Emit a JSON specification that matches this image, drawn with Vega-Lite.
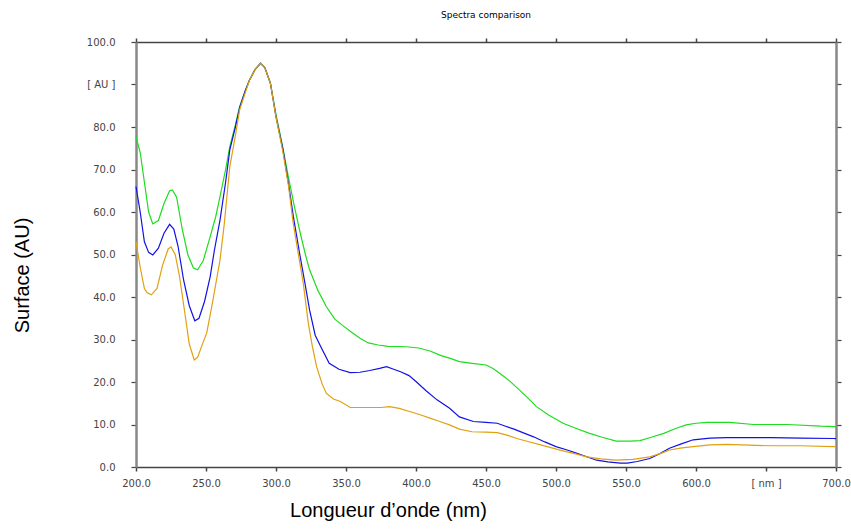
{
  "$schema": "https://vega.github.io/schema/vega-lite/v6.json",
  "autosize": {"type": "none"},
  "padding": {"left": 136, "top": 42, "right": 15, "bottom": 62},
  "width": 700,
  "height": 425,
  "background": "white",
  "config": {"view": {"stroke": null}, "font": "Liberation Sans"},
  "title": {"text": "Spectra comparison", "fontSize": 9, "fontWeight": "normal", "font": "DejaVu Sans", "color": "#000", "offset": 17, "anchor": "middle"},
  "datasets": {
    "spectra": [
      {"nm": 200, "v": 77.7, "s": "green"}, {"nm": 203, "v": 74, "s": "green"}, {"nm": 206, "v": 67, "s": "green"}, {"nm": 209, "v": 60, "s": "green"}, {"nm": 212, "v": 57.2, "s": "green"}, {"nm": 216, "v": 58, "s": "green"}, {"nm": 220, "v": 62, "s": "green"}, {"nm": 224, "v": 65, "s": "green"}, {"nm": 226, "v": 65.2, "s": "green"}, {"nm": 229, "v": 63.5, "s": "green"}, {"nm": 233, "v": 56, "s": "green"}, {"nm": 237, "v": 50, "s": "green"}, {"nm": 241, "v": 46.8, "s": "green"}, {"nm": 244, "v": 46.4, "s": "green"}, {"nm": 248, "v": 48.5, "s": "green"}, {"nm": 253, "v": 54.2, "s": "green"}, {"nm": 257, "v": 59, "s": "green"}, {"nm": 260, "v": 63.6, "s": "green"}, {"nm": 264, "v": 70, "s": "green"}, {"nm": 267, "v": 75.4, "s": "green"}, {"nm": 271, "v": 80.5, "s": "green"}, {"nm": 274, "v": 84.8, "s": "green"}, {"nm": 278, "v": 88.5, "s": "green"}, {"nm": 281, "v": 91, "s": "green"}, {"nm": 285, "v": 93.5, "s": "green"}, {"nm": 289, "v": 95, "s": "green"}, {"nm": 292, "v": 94, "s": "green"}, {"nm": 296, "v": 90.3, "s": "green"}, {"nm": 300, "v": 83, "s": "green"}, {"nm": 305, "v": 75, "s": "green"}, {"nm": 309, "v": 68, "s": "green"}, {"nm": 313, "v": 61.5, "s": "green"}, {"nm": 317, "v": 55.5, "s": "green"}, {"nm": 321, "v": 50, "s": "green"}, {"nm": 324, "v": 46.4, "s": "green"}, {"nm": 330, "v": 41.5, "s": "green"}, {"nm": 336, "v": 37.7, "s": "green"}, {"nm": 342, "v": 34.8, "s": "green"}, {"nm": 348, "v": 33.2, "s": "green"}, {"nm": 354, "v": 31.7, "s": "green"}, {"nm": 360, "v": 30.3, "s": "green"}, {"nm": 366, "v": 29.2, "s": "green"}, {"nm": 373, "v": 28.7, "s": "green"}, {"nm": 380, "v": 28.4, "s": "green"}, {"nm": 393, "v": 28.3, "s": "green"}, {"nm": 402, "v": 28, "s": "green"}, {"nm": 410, "v": 27.3, "s": "green"}, {"nm": 418, "v": 26.2, "s": "green"}, {"nm": 425, "v": 25.5, "s": "green"}, {"nm": 431, "v": 24.8, "s": "green"}, {"nm": 440, "v": 24.4, "s": "green"}, {"nm": 450, "v": 24, "s": "green"}, {"nm": 455, "v": 23.2, "s": "green"}, {"nm": 460, "v": 22, "s": "green"}, {"nm": 467, "v": 20.2, "s": "green"}, {"nm": 474, "v": 18.1, "s": "green"}, {"nm": 480, "v": 16.2, "s": "green"}, {"nm": 486, "v": 14.2, "s": "green"}, {"nm": 495, "v": 12.2, "s": "green"}, {"nm": 505, "v": 10.3, "s": "green"}, {"nm": 515, "v": 9, "s": "green"}, {"nm": 524, "v": 7.9, "s": "green"}, {"nm": 533, "v": 7, "s": "green"}, {"nm": 543, "v": 6.1, "s": "green"}, {"nm": 553, "v": 6.1, "s": "green"}, {"nm": 560, "v": 6.2, "s": "green"}, {"nm": 568, "v": 7, "s": "green"}, {"nm": 577, "v": 7.9, "s": "green"}, {"nm": 585, "v": 9, "s": "green"}, {"nm": 593, "v": 9.9, "s": "green"}, {"nm": 600, "v": 10.3, "s": "green"}, {"nm": 608, "v": 10.5, "s": "green"}, {"nm": 624, "v": 10.5, "s": "green"}, {"nm": 641, "v": 10, "s": "green"}, {"nm": 665, "v": 10, "s": "green"}, {"nm": 689, "v": 9.6, "s": "green"}, {"nm": 700, "v": 9.5, "s": "green"},

      {"nm": 200, "v": 66, "s": "blue"}, {"nm": 203, "v": 60, "s": "blue"}, {"nm": 206, "v": 53, "s": "blue"}, {"nm": 209, "v": 50.5, "s": "blue"}, {"nm": 212, "v": 49.9, "s": "blue"}, {"nm": 216, "v": 51.5, "s": "blue"}, {"nm": 220, "v": 55, "s": "blue"}, {"nm": 224, "v": 57.1, "s": "blue"}, {"nm": 227, "v": 56, "s": "blue"}, {"nm": 230, "v": 52, "s": "blue"}, {"nm": 234, "v": 44, "s": "blue"}, {"nm": 238, "v": 38, "s": "blue"}, {"nm": 242, "v": 34.4, "s": "blue"}, {"nm": 245, "v": 35, "s": "blue"}, {"nm": 249, "v": 39, "s": "blue"}, {"nm": 253, "v": 44.8, "s": "blue"}, {"nm": 256, "v": 51, "s": "blue"}, {"nm": 260, "v": 58.1, "s": "blue"}, {"nm": 264, "v": 67, "s": "blue"}, {"nm": 267, "v": 74.6, "s": "blue"}, {"nm": 271, "v": 80, "s": "blue"}, {"nm": 274, "v": 84.5, "s": "blue"}, {"nm": 278, "v": 88.5, "s": "blue"}, {"nm": 281, "v": 91, "s": "blue"}, {"nm": 285, "v": 93.5, "s": "blue"}, {"nm": 289, "v": 95, "s": "blue"}, {"nm": 292, "v": 94, "s": "blue"}, {"nm": 296, "v": 90.3, "s": "blue"}, {"nm": 300, "v": 82.4, "s": "blue"}, {"nm": 305, "v": 74.6, "s": "blue"}, {"nm": 309, "v": 66.5, "s": "blue"}, {"nm": 312.4, "v": 58.9, "s": "blue"}, {"nm": 317, "v": 50, "s": "blue"}, {"nm": 320.7, "v": 43.2, "s": "blue"}, {"nm": 324, "v": 36.9, "s": "blue"}, {"nm": 328, "v": 31, "s": "blue"}, {"nm": 332, "v": 28.3, "s": "blue"}, {"nm": 338, "v": 24.4, "s": "blue"}, {"nm": 345, "v": 23, "s": "blue"}, {"nm": 353, "v": 22.2, "s": "blue"}, {"nm": 360, "v": 22.3, "s": "blue"}, {"nm": 367, "v": 22.7, "s": "blue"}, {"nm": 374, "v": 23.2, "s": "blue"}, {"nm": 379, "v": 23.6, "s": "blue"}, {"nm": 384, "v": 23, "s": "blue"}, {"nm": 389, "v": 22.4, "s": "blue"}, {"nm": 395, "v": 21.5, "s": "blue"}, {"nm": 400, "v": 20.1, "s": "blue"}, {"nm": 407, "v": 18, "s": "blue"}, {"nm": 415, "v": 15.8, "s": "blue"}, {"nm": 424, "v": 13.8, "s": "blue"}, {"nm": 431, "v": 11.8, "s": "blue"}, {"nm": 441, "v": 10.7, "s": "blue"}, {"nm": 450, "v": 10.5, "s": "blue"}, {"nm": 458, "v": 10.3, "s": "blue"}, {"nm": 464, "v": 9.6, "s": "blue"}, {"nm": 470, "v": 8.9, "s": "blue"}, {"nm": 484, "v": 7.1, "s": "blue"}, {"nm": 492, "v": 5.9, "s": "blue"}, {"nm": 500, "v": 4.8, "s": "blue"}, {"nm": 508, "v": 4, "s": "blue"}, {"nm": 515, "v": 3.2, "s": "blue"}, {"nm": 522, "v": 2.4, "s": "blue"}, {"nm": 529, "v": 1.6, "s": "blue"}, {"nm": 537, "v": 1.2, "s": "blue"}, {"nm": 546, "v": 0.9, "s": "blue"}, {"nm": 551, "v": 0.9, "s": "blue"}, {"nm": 558, "v": 1.3, "s": "blue"}, {"nm": 567, "v": 2, "s": "blue"}, {"nm": 574, "v": 3.1, "s": "blue"}, {"nm": 581, "v": 4.4, "s": "blue"}, {"nm": 590, "v": 5.5, "s": "blue"}, {"nm": 598, "v": 6.4, "s": "blue"}, {"nm": 610, "v": 6.8, "s": "blue"}, {"nm": 622, "v": 6.9, "s": "blue"}, {"nm": 653, "v": 6.9, "s": "blue"}, {"nm": 675, "v": 6.8, "s": "blue"}, {"nm": 698, "v": 6.7, "s": "blue"}, {"nm": 700, "v": 6.7, "s": "blue"},

      {"nm": 200, "v": 53, "s": "orange"}, {"nm": 203, "v": 47, "s": "orange"}, {"nm": 206, "v": 42, "s": "orange"}, {"nm": 208, "v": 41, "s": "orange"}, {"nm": 211, "v": 40.5, "s": "orange"}, {"nm": 215, "v": 42, "s": "orange"}, {"nm": 219, "v": 47.5, "s": "orange"}, {"nm": 223, "v": 51.3, "s": "orange"}, {"nm": 225, "v": 51.8, "s": "orange"}, {"nm": 228, "v": 50, "s": "orange"}, {"nm": 231, "v": 45, "s": "orange"}, {"nm": 235, "v": 36, "s": "orange"}, {"nm": 238, "v": 29, "s": "orange"}, {"nm": 241.6, "v": 25.2, "s": "orange"}, {"nm": 244, "v": 25.8, "s": "orange"}, {"nm": 247, "v": 28.5, "s": "orange"}, {"nm": 250.5, "v": 31.5, "s": "orange"}, {"nm": 255, "v": 39.3, "s": "orange"}, {"nm": 260, "v": 48.7, "s": "orange"}, {"nm": 263, "v": 57, "s": "orange"}, {"nm": 267, "v": 70.7, "s": "orange"}, {"nm": 271, "v": 78, "s": "orange"}, {"nm": 274, "v": 84, "s": "orange"}, {"nm": 278, "v": 88, "s": "orange"}, {"nm": 281, "v": 91, "s": "orange"}, {"nm": 285, "v": 93.5, "s": "orange"}, {"nm": 289, "v": 95, "s": "orange"}, {"nm": 292, "v": 94, "s": "orange"}, {"nm": 296, "v": 90.3, "s": "orange"}, {"nm": 300, "v": 82.4, "s": "orange"}, {"nm": 305, "v": 74, "s": "orange"}, {"nm": 309, "v": 66, "s": "orange"}, {"nm": 312, "v": 58, "s": "orange"}, {"nm": 316, "v": 50, "s": "orange"}, {"nm": 319.5, "v": 43.2, "s": "orange"}, {"nm": 323, "v": 34, "s": "orange"}, {"nm": 326, "v": 28.3, "s": "orange"}, {"nm": 329, "v": 23.6, "s": "orange"}, {"nm": 333, "v": 19.5, "s": "orange"}, {"nm": 336, "v": 17.3, "s": "orange"}, {"nm": 341, "v": 16, "s": "orange"}, {"nm": 346, "v": 15.4, "s": "orange"}, {"nm": 353, "v": 14, "s": "orange"}, {"nm": 365, "v": 14, "s": "orange"}, {"nm": 375, "v": 14, "s": "orange"}, {"nm": 381, "v": 14.2, "s": "orange"}, {"nm": 388, "v": 13.8, "s": "orange"}, {"nm": 396, "v": 13, "s": "orange"}, {"nm": 403, "v": 12.3, "s": "orange"}, {"nm": 410, "v": 11.5, "s": "orange"}, {"nm": 417, "v": 10.7, "s": "orange"}, {"nm": 424, "v": 9.9, "s": "orange"}, {"nm": 431, "v": 8.9, "s": "orange"}, {"nm": 440, "v": 8.3, "s": "orange"}, {"nm": 450, "v": 8.2, "s": "orange"}, {"nm": 458, "v": 8.1, "s": "orange"}, {"nm": 465, "v": 7.5, "s": "orange"}, {"nm": 472, "v": 6.7, "s": "orange"}, {"nm": 480, "v": 6, "s": "orange"}, {"nm": 489, "v": 5.2, "s": "orange"}, {"nm": 497, "v": 4.5, "s": "orange"}, {"nm": 505, "v": 3.8, "s": "orange"}, {"nm": 514, "v": 3.1, "s": "orange"}, {"nm": 522, "v": 2.4, "s": "orange"}, {"nm": 532, "v": 1.9, "s": "orange"}, {"nm": 543, "v": 1.6, "s": "orange"}, {"nm": 555, "v": 1.8, "s": "orange"}, {"nm": 567, "v": 2.4, "s": "orange"}, {"nm": 575, "v": 3.2, "s": "orange"}, {"nm": 581, "v": 4, "s": "orange"}, {"nm": 590, "v": 4.5, "s": "orange"}, {"nm": 598, "v": 4.8, "s": "orange"}, {"nm": 610, "v": 5.2, "s": "orange"}, {"nm": 622, "v": 5.3, "s": "orange"}, {"nm": 653, "v": 5, "s": "orange"}, {"nm": 675, "v": 5, "s": "orange"}, {"nm": 698, "v": 4.8, "s": "orange"}, {"nm": 700, "v": 4.8, "s": "orange"}
    ]
  },
  "data": {"name": "spectra"},
  "layer": [
    {
      "mark": {"type": "line", "strokeWidth": 1.2, "interpolate": "linear"},
      "encoding": {
        "x": {"field": "nm", "type": "quantitative", "scale": {"domain": [200, 700], "nice": false, "zero": false},
          "axis": {"orient": "bottom", "values": [200, 250, 300, 350, 400, 450, 500, 550, 600, 650, 700], "grid": false,
            "labelExpr": "datum.value == 650 ? '[ nm ]' : format(datum.value, '.1f')",
            "labelFontSize": 10, "labelColor": "#444", "labelFont": "DejaVu Sans", "labelPadding": 7,
            "domainColor": "#444", "domainWidth": 1.5, "tickColor": "#444", "tickSize": 4, "tickWidth": 1.5,
            "title": "Longueur d’onde (nm)", "titleFontSize": 20, "titleFontWeight": "normal", "titleFont": "Liberation Sans", "titleColor": "#000",
            "titleX": 252, "titleY": 33, "titleBaseline": "top", "labelFlush": false, "labelOverlap": false}},
        "y": {"field": "v", "type": "quantitative", "scale": {"domain": [0, 100], "nice": false},
          "axis": {"orient": "left", "values": [0, 10, 20, 30, 40, 50, 60, 70, 80, 90, 100], "grid": false,
            "labelExpr": "datum.value == 90 ? '[ AU ]' : format(datum.value, '.1f')",
            "labelFontSize": 10, "labelColor": "#444", "labelFont": "DejaVu Sans", "labelPadding": 16,
            "domainColor": "#888", "domainWidth": 2.5, "tickColor": "#444", "tickSize": 5, "tickWidth": 1.2,
            "title": "Surface (AU)", "titleFontSize": 20, "titleFontWeight": "normal", "titleFont": "Liberation Sans", "titleColor": "#000",
            "titleX": -104, "titleY": 233, "titleAngle": -90, "titleBaseline": "bottom", "labelFlush": false, "labelOverlap": false}},
        "color": {"field": "s", "type": "nominal", "scale": {"domain": ["green", "blue", "orange"], "range": ["#1edc1e", "#1212e6", "#e0a010"]}, "legend": null}
      }
    },
    {
      "mark": {"type": "line", "opacity": 0},
      "encoding": {
        "x": {"field": "nm", "type": "quantitative", "scale": {"domain": [200, 700], "nice": false, "zero": false},
          "axis": {"orient": "top", "values": [200, 250, 300, 350, 400, 450, 500, 550, 600, 650, 700], "grid": false, "labels": false, "title": null,
            "domainColor": "#444", "domainWidth": 1.5, "tickColor": "#444", "tickSize": 4, "tickWidth": 1.5}},
        "y": {"field": "v", "type": "quantitative", "scale": {"domain": [0, 100], "nice": false},
          "axis": {"orient": "right", "values": [0, 10, 20, 30, 40, 50, 60, 70, 80, 90, 100], "grid": false, "labels": false, "title": null,
            "domainColor": "#888", "domainWidth": 2.5, "tickColor": "#444", "tickSize": 5, "tickWidth": 1.2}},
        "detail": {"field": "s", "type": "nominal"}
      }
    }
  ],
  "resolve": {"axis": {"x": "independent", "y": "independent"}}
}
